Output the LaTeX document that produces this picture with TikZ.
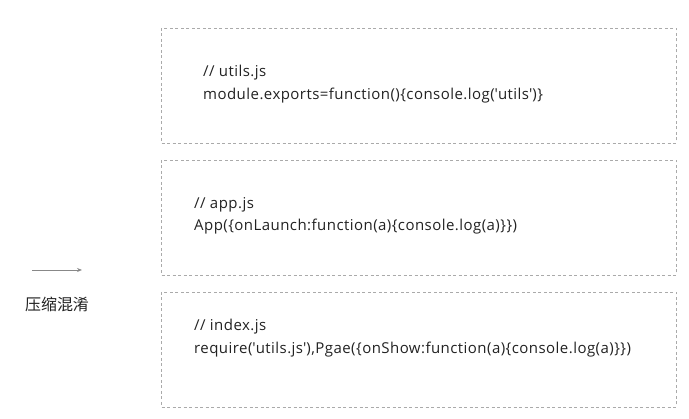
\documentclass[tikz,border=0pt]{standalone}
\usepackage{fontspec}
\setmainfont{Open Sans}[LetterSpace=3]
\newfontfamily\cjk{Noto Sans CJK SC}
\usetikzlibrary{arrows.meta}
\definecolor{boxline}{HTML}{AAAAAA}
\definecolor{txt}{HTML}{222222}
\definecolor{arr}{HTML}{888888}
\newcommand{\q}{\textquotesingle}
\tikzset{
  codebox/.style={draw=boxline, dash pattern=on 3pt off 2.5pt, line width=0.8pt},
  codetext/.style={anchor=west, align=left, text=txt, font=\fontsize{15}{22.5}\selectfont, inner sep=0pt},
}
\begin{document}
\begin{tikzpicture}[x=1pt,y=-1pt]
\useasboundingbox (0,0) rectangle (689,419);
\draw[codebox] (161,28) rectangle (676,143);
\draw[codebox] (161,160) rectangle (676,275);
\draw[codebox] (161,292) rectangle (676,407);
\node[codetext] (t1) at (203,84) {// utils.js\\module.exports=function()\{console.log(\q utils\q)\}};
\node[codetext] (t2) at (194,216) {// app.js\\App(\{onLaunch:function(a)\{console.log(a)\}\})};
\node[codetext] (t3) at (194,338) {// index.js\\require(\q utils.js\q),Pgae(\{onShow:function(a)\{console.log(a)\}\})};
\coordinate (a1) at (32,270);
\coordinate (a2) at (82,270);
\draw[arr, line width=0.9pt, -{Stealth[length=5pt,width=4pt]}] (a1) -- (a2);
\node[text=txt, font=\cjk\fontsize{16}{18}\selectfont] (lbl) at (57,304) {压缩混淆};
\end{tikzpicture}
\end{document}
